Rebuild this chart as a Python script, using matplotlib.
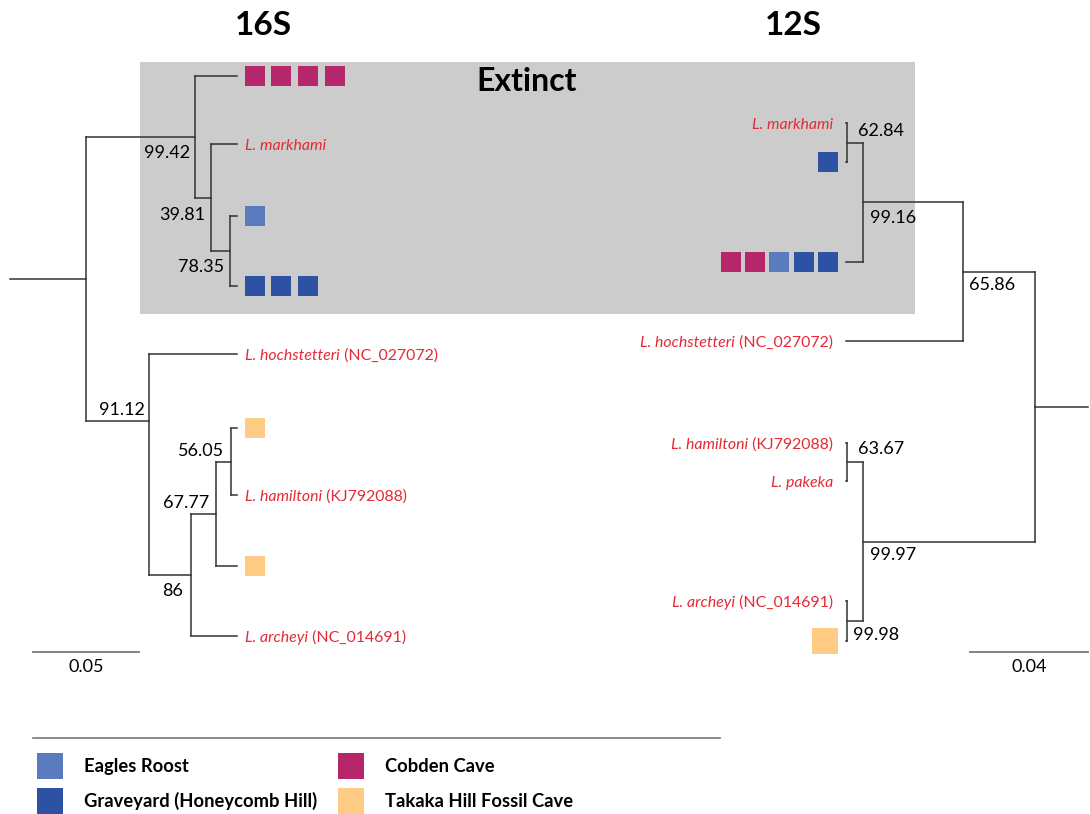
"""Two mitochondrial trees (16S and 12S) with cave samples shown as coloured squares."""

import matplotlib
matplotlib.use("Agg")

import matplotlib.pyplot as plt
from matplotlib.patches import Rectangle
from matplotlib.transforms import offset_copy

plt.rcParams["font.family"] = ["Lato", "DejaVu Sans"]

# ---- data -----------------------------------------------------------------

SITES = ["Eagles Roost", "Graveyard (Honeycomb Hill)", "Cobden Cave", "Takaka Hill Fossil Cave"]
SITE_COLORS = ["#5b7bbf", "#2e52a3", "#b5266b", "#fecb85"]
ER, GY, CC, TK = SITES

# leaves top to bottom: a species name, or a list of cave samples
LEAVES_16S = [[CC, CC, CC, CC], "L. markhami", [ER], [GY, GY, GY],
              "L. hochstetteri (NC_027072)", [TK], "L. hamiltoni (KJ792088)", [TK],
              "L. archeyi (NC_014691)"]
# internal nodes are numbered after the leaves; depth is distance from the root
NODE_CHILDREN_16S = [(2, 3), (1, 9), (0, 10), (5, 6), (12, 7), (13, 8), (4, 14), (11, 15)]
NODE_DEPTH_16S = [0.0679, 0.0590, 0.0514, 0.0684, 0.0613, 0.0495, 0.0297, 0.0]
NODE_SUPPORT_16S = ["78.35", "39.81", "99.42", "56.05", "67.77", "86", "91.12", ""]
TIP_DEPTH_16S = 0.0712
STEM_16S = 0.0358
SCALE_16S = 0.05

LEAVES_12S = ["L. markhami", [GY], [CC, CC, ER, GY, GY], "L. hochstetteri (NC_027072)",
              "L. hamiltoni (KJ792088)", "L. pakeka", "L. archeyi (NC_014691)", [TK]]
NODE_CHILDREN_12S = [(0, 1), (8, 2), (9, 3), (4, 5), (6, 7), (11, 12), (10, 13)]
NODE_DEPTH_12S = [0.0636, 0.0583, 0.0242, 0.0636, 0.0636, 0.0583, 0.0]
NODE_SUPPORT_12S = ["62.84", "99.16", "65.86", "63.67", "99.98", "99.97", ""]
TIP_DEPTH_12S = 0.0639
STEM_12S = 0.0181
SCALE_12S = 0.04

# ---- layout (pixels) --------------------------------------------------------

W, H = 1090, 814
LEAF_ROWS_16S = [76, 144, 216, 286, 354, 428, 495, 566, 636]
LEAF_ROWS_12S = [123, 162, 262, 341, 443, 481, 601, 641]
NODE_Y_FIX_16S = {15: 421}
SUPPORT_OFFSET_16S = [(-6, -21), (-6, -22), (-5, -21), (-7, 6), (-7, 6), (-8, -21), (-4, 6)]
SUPPORT_OFFSET_12S = [(11, 6), (7, -21), (6, -18), (11, 8), (6, -19), (7, -18)]
SQUARE_STEP_16S = 26.7
SQUARE_STEP_12S = 24.4
SQUARE_FIX_12S = {7: 26}

RED = "#e52a35"
LINE = "#333333"
SUPPORT_FONT = 13
LABEL_FONT = 11.4


def main():
    fig = plt.figure(figsize=(W / 100, H / 100), dpi=100)

    bg = fig.add_axes([0, 0, 1, 1], label="bg")
    bg.set_xlim(0, W)
    bg.set_ylim(H, 0)
    bg.axis("off")
    draw_frame(bg)

    ax16 = fig.add_axes([0, 0, 1, 1], label="16S")
    ax16.set_xlim(-86 / 2120, (W - 86) / 2120)
    ax16.set_ylim(H, 0)
    ax16.axis("off")
    draw_tree(fig, ax16, LEAVES_16S, LEAF_ROWS_16S, NODE_CHILDREN_16S, NODE_DEPTH_16S,
              NODE_SUPPORT_16S, SUPPORT_OFFSET_16S, TIP_DEPTH_16S, STEM_16S,
              side=1, step=SQUARE_STEP_16S, node_fix=NODE_Y_FIX_16S)
    scale_bar(ax16, -0.025, SCALE_16S, side=1)

    ax12 = fig.add_axes([0, 0, 1, 1], label="12S")
    ax12.set_xlim(1034.5 / 2950, -(W - 1034.5) / 2950)
    ax12.set_ylim(H, 0)
    ax12.axis("off")
    draw_tree(fig, ax12, LEAVES_12S, LEAF_ROWS_12S, NODE_CHILDREN_12S, NODE_DEPTH_12S,
              NODE_SUPPORT_12S, SUPPORT_OFFSET_12S, TIP_DEPTH_12S, STEM_12S,
              side=-1, step=SQUARE_STEP_12S, square_fix=SQUARE_FIX_12S)
    scale_bar(ax12, 0.0219, SCALE_12S, side=-1)

    fig.savefig("out.png", dpi=100)
    plt.close(fig)


def draw_frame(ax):
    ax.add_patch(Rectangle((140, 62), 775, 252, facecolor="#cccccc", edgecolor="none", zorder=0))
    ax.text(527, 91, "Extinct", fontsize=23, fontweight="bold", ha="center", va="baseline")
    ax.text(263, 35, "16S", fontsize=24, fontweight="bold", ha="center", va="baseline")
    ax.text(793, 35, "12S", fontsize=24, fontweight="bold", ha="center", va="baseline")

    ax.plot([33, 720], [738, 738], color="#777777", lw=1.2)
    spots = [(37, 753), (37, 788), (338, 753), (338, 788)]
    for (x, y), site, color in zip(spots, SITES, SITE_COLORS):
        ax.add_patch(Rectangle((x, y), 26, 26, facecolor=color, edgecolor="none"))
        ax.text(x + 47, y + 19, site, fontsize=13.2, fontweight="bold", ha="left", va="baseline")


def draw_tree(fig, ax, leaves, rows, children, depths, supports, offsets, tip, stem,
              side, step, node_fix=None, square_fix=None):
    node_fix = node_fix or {}
    square_fix = square_fix or {}
    n = len(leaves)
    xs = [tip] * n + list(depths)
    ys = list(rows) + [0.0] * len(children)

    for k, kids in enumerate(children):
        i = n + k
        kid_y = [ys[c] for c in kids]
        ys[i] = node_fix.get(i, sum(kid_y) / len(kid_y))
        ax.plot([xs[i], xs[i]], [min(kid_y), max(kid_y)], color=LINE, lw=1.1)
        for c in kids:
            ax.plot([xs[i], xs[c]], [ys[c], ys[c]], color=LINE, lw=1.1)
        if supports[k]:
            dx, dy = offsets[k]
            ax.annotate(supports[k], (xs[i], ys[i]), xytext=(dx, dy),
                        textcoords="offset pixels", fontsize=SUPPORT_FONT,
                        ha="right" if side > 0 else "left", va="baseline")

    root = n + len(children) - 1
    ax.plot([xs[root] - stem, xs[root]], [ys[root], ys[root]], color=LINE, lw=1.1)

    for i, leaf in enumerate(leaves):
        if isinstance(leaf, str):
            gap = 8 if side > 0 else 13
            species, _, acc = leaf.partition(" (")
            draw_species(ax, tip, rows[i], species, acc, side, gap)
            continue
        size = square_fix.get(i, 19.5)
        order = leaf if side > 0 else leaf[::-1]
        for j, site in enumerate(order):
            dx = side * (8 + size / 2 + j * step)
            trans = offset_copy(ax.transData, fig=fig, x=dx, y=0, units="dots")
            ax.plot([tip], [rows[i]], marker="s", ms=size * 0.72, mew=0,
                    color=SITE_COLORS[SITES.index(site)], transform=trans)


def draw_species(ax, x, y, species, acc, side, gap):
    # italic species name, upright accession in brackets
    if side > 0:
        t = ax.annotate(species, (x, y), xytext=(gap, -6), textcoords="offset pixels",
                        fontsize=LABEL_FONT, style="italic", color=RED, ha="left", va="baseline")
        if acc:
            ax.annotate(f" ({acc}", xy=(1, 0), xycoords=t, fontsize=LABEL_FONT,
                        color=RED, ha="left", va="bottom")
    else:
        if acc:
            t = ax.annotate(f" ({acc}", (x, y), xytext=(-gap, -6), textcoords="offset pixels",
                            fontsize=LABEL_FONT, color=RED, ha="right", va="baseline")
            ax.annotate(species, xy=(0, 0), xycoords=t, fontsize=LABEL_FONT,
                        style="italic", color=RED, ha="right", va="bottom")
        else:
            ax.annotate(species, (x, y), xytext=(-gap, -6), textcoords="offset pixels",
                        fontsize=LABEL_FONT, style="italic", color=RED, ha="right", va="baseline")


def scale_bar(ax, start, length, side):
    end = start + side * length
    ax.plot([start, end], [652, 652], color="#777777", lw=1.3)
    ax.annotate(f"{length:.2f}", ((start + end) / 2, 652), xytext=(0, -20),
                textcoords="offset pixels", fontsize=SUPPORT_FONT, ha="center", va="baseline")


if __name__ == "__main__":
    main()
